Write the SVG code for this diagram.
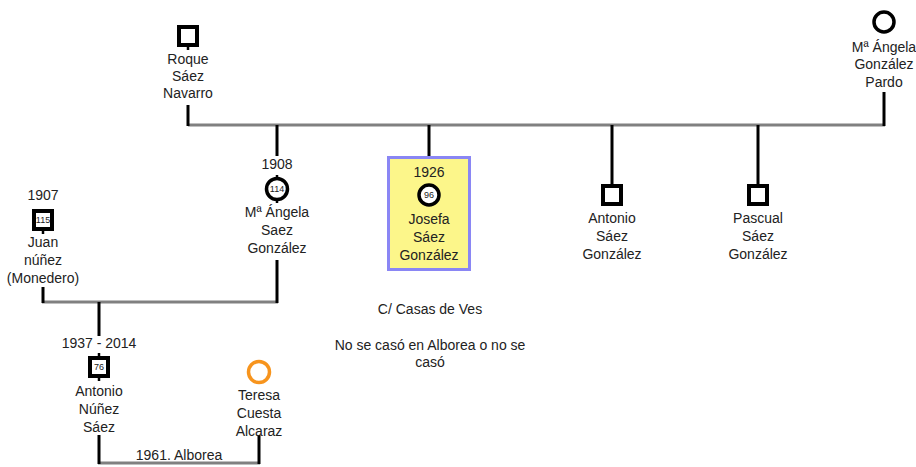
<svg xmlns="http://www.w3.org/2000/svg" width="916" height="467" viewBox="0 0 916 467">
<style>
text{font-family:"Liberation Sans",Arial,sans-serif;font-size:14px;fill:#222;text-anchor:middle}
.n{font-size:9px}
.sq{fill:#fff;stroke:#000;stroke-width:4}
.ci{fill:#fff;stroke:#000;stroke-width:3.5}
.v{stroke:#000;stroke-width:3;fill:none}
.t{stroke:#000;stroke-width:2.5;fill:none}
.h{stroke:#808080;stroke-width:3;fill:none}
</style>
<rect width="916" height="467" fill="#fff"/>
<g id="connectors">
<line class="h" x1="188" y1="125" x2="885" y2="125"/>
<line class="v" x1="188" y1="105" x2="188" y2="126"/>
<line class="v" x1="884" y1="92" x2="884" y2="126"/>
<line class="v" x1="277" y1="125" x2="277" y2="156"/>
<line class="v" x1="429" y1="125" x2="429" y2="156"/>
<line class="v" x1="612" y1="125" x2="612" y2="186"/>
<line class="v" x1="758" y1="125" x2="758" y2="186"/>
<line class="h" x1="42" y1="302" x2="278" y2="302"/>
<line class="v" x1="277" y1="260" x2="277" y2="303"/>
<line class="v" x1="43" y1="287" x2="43" y2="303"/>
<line class="v" x1="99" y1="302" x2="99" y2="336"/>
<line class="h" x1="98" y1="463" x2="260" y2="463"/>
<line class="v" x1="99" y1="435" x2="99" y2="464"/>
<line class="v" x1="259" y1="435" x2="259" y2="464"/>
<text x="179" y="460">1961. Alborea</text>
</g>
<g id="roque">
<rect class="sq" x="179" y="27" width="18" height="18"/>
<line class="t" x1="188" y1="45" x2="188" y2="50"/>
<text x="188" y="64">Roque</text><text x="188" y="81">Sáez</text><text x="188" y="98">Navarro</text>
</g>
<g id="angela_pardo">
<circle class="ci" cx="884" cy="22" r="10"/>
<text x="884" y="52">Mª Ángela</text><text x="884" y="69">González</text><text x="884" y="87">Pardo</text>
</g>
<g id="angela_saez">
<text x="277" y="169">1908</text>
<line class="t" x1="277" y1="175" x2="277" y2="203"/>
<circle class="ci" cx="277" cy="189" r="10.5"/>
<text class="n" x="277" y="192">114</text>
<text x="277" y="217">Mª Ángela</text><text x="277" y="235">Saez</text><text x="277" y="253">González</text>
</g>
<g id="josefa">
<rect x="388.5" y="157.5" width="81" height="112" fill="#FCF68A" stroke="#8A86F4" stroke-width="3"/>
<text x="429" y="177">1926</text>
<circle class="ci" cx="429" cy="195" r="10"/>
<text class="n" x="429" y="198">96</text>
<text x="429" y="224">Josefa</text><text x="429" y="242">Sáez</text><text x="429" y="260">González</text>
</g>
<g id="antonio_saez">
<rect class="sq" x="603" y="186" width="18" height="18"/>
<text x="612" y="223">Antonio</text><text x="612" y="241">Sáez</text><text x="612" y="259">González</text>
</g>
<g id="pascual">
<rect class="sq" x="749" y="186" width="18" height="18"/>
<text x="758" y="223">Pascual</text><text x="758" y="241">Sáez</text><text x="758" y="259">González</text>
</g>
<g id="juan">
<text x="43" y="200">1907</text>
<line class="t" x1="43" y1="229" x2="43" y2="234"/>
<rect class="sq" x="34" y="211" width="18" height="18"/>
<text class="n" x="43" y="223">115</text>
<text x="43" y="247">Juan</text><text x="43" y="265">núñez</text><text x="43" y="283">(Monedero)</text>
</g>
<g id="antonio_nunez">
<text x="99" y="348">1937 - 2014</text>
<line class="t" x1="99" y1="353" x2="99" y2="381"/>
<rect class="sq" x="90" y="358" width="18" height="18"/>
<text class="n" x="99" y="370">76</text>
<text x="99" y="396">Antonio</text><text x="99" y="414">Núñez</text><text x="99" y="432">Sáez</text>
</g>
<g id="teresa">
<circle cx="259" cy="372" r="10.5" fill="#fff" stroke="#F7941D" stroke-width="3.5"/>
<text x="259" y="400">Teresa</text><text x="259" y="418">Cuesta</text><text x="259" y="436">Alcaraz</text>
</g>
<g id="note">
<text x="430" y="314">C/ Casas de Ves</text>
<text x="430" y="350">No se casó en Alborea o no se</text>
<text x="430" y="367">casó</text>
</g>
</svg>
